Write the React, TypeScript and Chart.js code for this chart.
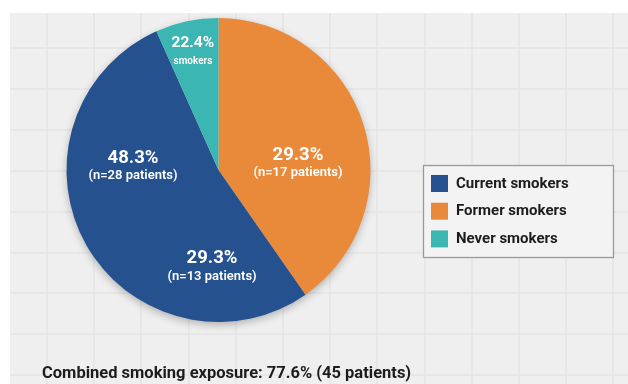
import React, { useEffect, useRef } from "react";
import { Chart, registerables } from "chart.js";

Chart.register(...registerables);

// Slices in clockwise drawing order from 12 o'clock (shares)
const categories = ["Former smokers", "Current smokers", "Never smokers"];
const shares = [40.3, 53.0, 6.7];
const colors = ["#e98a3b", "#25518e", "#3cb6b3"];
const legendOrder = [1, 0, 2];

// Texts printed on the pie
const labelMain = ["29.3%", "48.3%", "29.3%", "22.4%"];
const labelSub = ["(n=17 patients)", "(n=28 patients)", "(n=13 patients)", "smokers"];
const caption = "Combined smoking exposure: 77.6% (45 patients)";

// Label anchors: angle (deg clockwise from top) and fraction of radius
const labelPlacement = [
  { angle: 79.3, dist: 0.532, big: 18.5, small: 13, gap: 18 },
  { angle: -82.0, dist: 0.568, big: 18.5, small: 13, gap: 18 },
  { angle: 184.2, dist: 0.58, big: 18.5, small: 13, gap: 19 },
  { angle: -11.4, dist: 0.852, big: 15.5, small: 10, gap: 18 },
];

const FONT = "Roboto, 'Noto Sans', sans-serif";

const decorPlugin = {
  id: "decor",
  beforeDraw(chart: any) {
    const { ctx, width, height } = chart;
    ctx.save();
    ctx.fillStyle = "#ffffff";
    ctx.fillRect(0, 0, width, height);
    ctx.fillStyle = "#efefef";
    ctx.fillRect(10, 13, width - 10, height - 13);
    ctx.strokeStyle = "#e5e5e5";
    ctx.lineWidth = 1.5;
    for (let x = 47; x < width; x += 47.2) {
      ctx.beginPath();
      ctx.moveTo(Math.round(x), 13);
      ctx.lineTo(Math.round(x), height);
      ctx.stroke();
    }
    for (let y = 48; y < height; y += 40.9) {
      ctx.beginPath();
      ctx.moveTo(10, Math.round(y));
      ctx.lineTo(width, Math.round(y));
      ctx.stroke();
    }
    ctx.restore();
  },
  beforeDatasetsDraw(chart: any) {
    const arc = chart.getDatasetMeta(0).data[0];
    if (!arc) return;
    const { ctx } = chart;
    ctx.save();
    ctx.shadowColor = "rgba(0,0,0,0.28)";
    ctx.shadowBlur = 9;
    ctx.shadowOffsetY = 3;
    ctx.fillStyle = "#e0e0e0";
    ctx.beginPath();
    ctx.arc(arc.x, arc.y, arc.outerRadius - 0.5, 0, Math.PI * 2);
    ctx.fill();
    ctx.restore();
  },
  afterDatasetsDraw(chart: any) {
    const arc = chart.getDatasetMeta(0).data[0];
    if (!arc) return;
    const { ctx } = chart;
    ctx.save();
    ctx.fillStyle = "#ffffff";
    ctx.textAlign = "center";
    ctx.textBaseline = "middle";
    labelPlacement.forEach((p, i) => {
      const a = (p.angle * Math.PI) / 180;
      const r = arc.outerRadius * p.dist;
      const x = arc.x + r * Math.sin(a);
      const y = arc.y - r * Math.cos(a);
      ctx.font = `bold ${p.big}px ${FONT}`;
      ctx.fillText(labelMain[i], x, y);
      ctx.font = `600 ${p.small}px ${FONT}`;
      ctx.fillText(labelSub[i], x, y + p.gap);
    });
    ctx.restore();
  },
  afterDraw(chart: any) {
    const { ctx } = chart;
    ctx.save();
    // legend box
    const bx = 423, by = 165, bw = 190, bh = 92;
    ctx.fillStyle = "#f3f3f3";
    ctx.fillRect(bx, by, bw, bh);
    ctx.strokeStyle = "#9a9a9a";
    ctx.lineWidth = 1.3;
    ctx.strokeRect(bx + 0.5, by + 0.5, bw, bh);
    ctx.textAlign = "left";
    ctx.textBaseline = "middle";
    ctx.font = `bold 15px ${FONT}`;
    legendOrder.forEach((idx, row) => {
      const cy = 183.5 + row * 27.7;
      ctx.fillStyle = colors[idx];
      ctx.fillRect(431, cy - 8.5, 17, 17);
      ctx.fillStyle = "#1c1c1c";
      ctx.fillText(categories[idx], 456, cy + 0.5);
    });
    // caption
    ctx.font = `bold 16.5px ${FONT}`;
    ctx.fillStyle = "#1c1c1c";
    ctx.fillText(caption, 42, 374);
    ctx.restore();
  },
};

export default function App() {
  const ref = useRef<HTMLCanvasElement | null>(null);
  useEffect(() => {
    document.body.style.margin = "0";
    if (!ref.current) return;
    const chart = new Chart(ref.current, {
      type: "pie",
      data: {
        labels: categories,
        datasets: [
          {
            data: shares,
            backgroundColor: colors,
            borderWidth: 0,
          },
        ],
      },
      options: {
        responsive: false,
        animation: false,
        rotation: 0,
        layout: { padding: { left: 66, right: 257, top: 18, bottom: 62 } },
        plugins: {
          legend: { display: false },
          title: { display: false },
          tooltip: { enabled: false },
        },
      },
      plugins: [decorPlugin],
    });
    return () => chart.destroy();
  }, []);
  return (
    <div style={{ position: "absolute", left: 0, top: 0, width: 628, height: 384 }}>
      <canvas ref={ref} width={628} height={384} />
    </div>
  );
}
